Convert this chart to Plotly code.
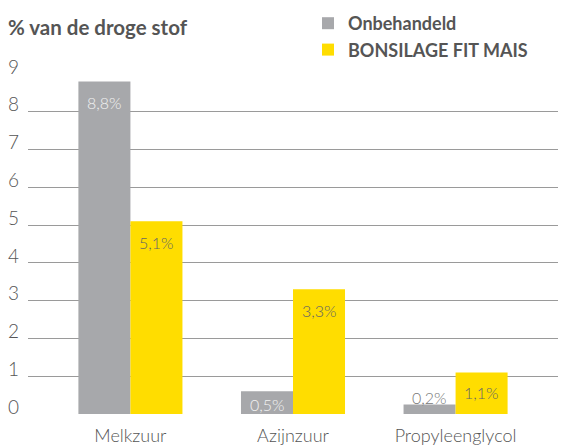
import plotly.graph_objects as go

categories = ["Melkzuur", "Azijnzuur", "Propyleenglycol"]
onbehandeld = [8.8, 0.6, 0.25]
bonsilage = [5.1, 3.3, 1.1]
onbehandeld_labels = ["8,8%", "0,5%", "0,2%"]
bonsilage_labels = ["5,1%", "3,3%", "1,1%"]
y_ticks = [0, 1, 2, 3, 4, 5, 6, 7, 8, 9]

GRAY = "#a7a8ab"
YELLOW = "#ffdd00"
TXT = "#555555"
FONT = "Lato"

fig = go.Figure()
fig.add_trace(go.Bar(x=categories, y=onbehandeld, name="Onbehandeld", hoverinfo="skip",
                     marker=dict(color=GRAY, line=dict(width=0))))
fig.add_trace(go.Bar(x=categories, y=bonsilage, name="BONSILAGE FIT MAIS", hoverinfo="skip",
                     marker=dict(color=YELLOW, line=dict(width=0))))

# label placement styles (pixels relative to bar top)
gray_shift = [-21, -13, 7]
gray_color = ["#f2f2f2", "#f2f2f2", "#777777"]
yel_shift = [-21, -21, -20]

annotations = []
for i, c in enumerate(categories):
    annotations.append(dict(x=c, y=onbehandeld[i], xref="x", yref="y",
                            text=onbehandeld_labels[i], showarrow=False,
                            xshift=-26, yshift=gray_shift[i], yanchor="middle",
                            font=dict(family=FONT, size=16, weight=300, color=gray_color[i])))
    annotations.append(dict(x=c, y=bonsilage[i], xref="x", yref="y",
                            text=bonsilage_labels[i], showarrow=False,
                            xshift=26, yshift=yel_shift[i], yanchor="middle",
                            font=dict(family=FONT, size=16, weight=300, color="#666666")))

fig.update_layout(
    width=561, height=448,
    margin=dict(l=28, r=3, t=74, b=34, autoexpand=False),
    paper_bgcolor="white", plot_bgcolor="white",
    barmode="group", bargap=0.36, bargroupgap=0,
    hovermode=False, dragmode=False,
    title=dict(text="<b>% van de droge stof</b>", x=0, y=1 - 28/448,
               xref="container", yref="container", xanchor="left", yanchor="middle",
               pad=dict(l=8, r=0, t=0, b=0),
               font=dict(family=FONT, size=20.5, color=TXT)),
    showlegend=True,
    legend=dict(x=308/561, y=1 - 5/448, xref="container", yref="container",
                xanchor="left", yanchor="top", tracegroupgap=0,
                font=dict(family=FONT, size=18, color=TXT, weight="bold"),
                bgcolor="rgba(0,0,0,0)", itemsizing="constant"),
    annotations=annotations,
    font=dict(family=FONT, color=TXT),
    xaxis=dict(range=[-0.63, 2.63], showgrid=False, showline=False, zeroline=False,
               ticks="", tickangle=0, automargin=False, ticklabelstandoff=9, fixedrange=True,
               tickfont=dict(family=FONT, size=18, weight=300, color=TXT)),
    yaxis=dict(range=[0, 9], tickvals=y_ticks, showgrid=True, gridcolor="#9a9a9a",
               gridwidth=1, zeroline=False, showline=False, ticks="", automargin=False,
               ticklabelshift=-7, ticklabelstandoff=8, fixedrange=True,
               tickfont=dict(family=FONT, size=19, weight=300, color=TXT)),
)

fig.write_html("out.html", config={"displayModeBar": False, "staticPlot": True},
               post_script="document.body.style.margin='0';")
